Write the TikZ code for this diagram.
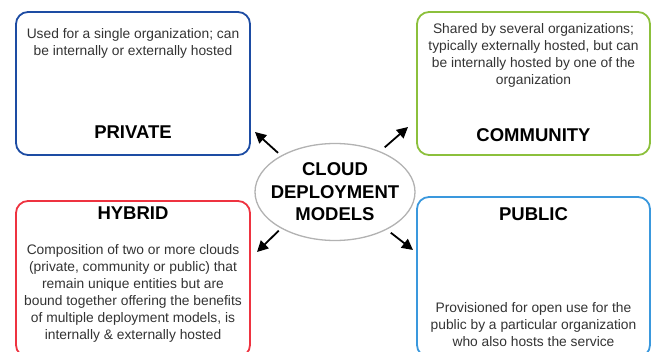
\documentclass[tikz,border=0pt]{standalone}
\usepackage{fontspec}
\setmainfont{Liberation Sans}
\usetikzlibrary{shapes.geometric,arrows.meta,positioning}

\definecolor{privateblue}{HTML}{1D4CA3}
\definecolor{communitygreen}{HTML}{8CC03C}
\definecolor{hybridred}{HTML}{EE3340}
\definecolor{publicblue}{HTML}{3A98DD}
\definecolor{desctext}{HTML}{333333}

\begin{document}
\begin{tikzpicture}[x=1pt,y=-1pt,
    box/.style={draw, line width=1.8pt, rounded corners=12pt,
        minimum width=234pt, inner sep=0pt},
    title/.style={font=\bfseries\fontsize{18.5}{22.5}\selectfont},
    desc/.style={align=center, text=desctext,
        font=\fontsize{13.8}{17}\selectfont},
    arr/.style={-{Triangle[length=11pt,width=11pt]}, line width=1.8pt}]

    \useasboundingbox (0,0) rectangle (652,352);
    \clip (0,0) rectangle (652,352);

    % Deployment boxes
    \node[box, draw=privateblue, minimum height=143pt] (private) at (133,83.5) {};
    \node[box, draw=communitygreen, minimum width=233pt, minimum height=143pt] (community) at (533.5,83.5) {};
    \node[box, draw=hybridred, minimum height=156pt] (hybrid) at (133,279) {};
    \node[box, draw=publicblue, minimum width=233pt, minimum height=160pt] (public) at (533.5,277) {};

    % Centre
    \node[ellipse, draw=gray!60, line width=1.3pt, fill=white,
        minimum width=160pt, minimum height=97pt, inner sep=0pt] (cloud) at (335,192) {};
    \node[title, align=center] (cloud-text) at (cloud.center)
        {CLOUD\\DEPLOYMENT\\MODELS};

    % Titles
    \node[title] (private-title) at (133,132) {PRIVATE};
    \node[title] (community-title) at (533.5,135) {COMMUNITY};
    \node[title] (hybrid-title) at (133,213) {HYBRID};
    \node[title] (public-title) at (533.5,214) {PUBLIC};

    % Descriptions
    \node[desc] (private-text) at (133,43)
        {Used for a single organization; can\\be internally or externally hosted};
    \node[desc] (community-text) at (533.5,55)
        {Shared by several organizations;\\typically externally hosted, but can\\be internally hosted by one of the\\organization};
    \node[desc] (hybrid-text) at (133,293.5)
        {Composition of two or more clouds\\(private, community or public) that\\remain unique entities but are\\bound together offering the benefits\\of multiple deployment models, is\\internally \& externally hosted};
    \node[desc] (public-text) at (533.5,325)
        {Provisioned for open use for the\\public by a particular organization\\who also hosts the service};

    % Arrows
    \coordinate (private-tip) at (255,132);
    \coordinate (community-tip) at (408,127);
    \coordinate (hybrid-tip) at (257,252);
    \coordinate (public-tip) at (413,250);

    \draw[arr, shorten <=4pt] (cloud.146) -- (private-tip);
    \draw[arr, shorten <=6pt] (cloud.42) -- (community-tip);
    \draw[arr, shorten <=3pt] (cloud.214) -- (hybrid-tip);
    \draw[arr, shorten <=5pt] (cloud.324) -- (public-tip);

\end{tikzpicture}
\end{document}
